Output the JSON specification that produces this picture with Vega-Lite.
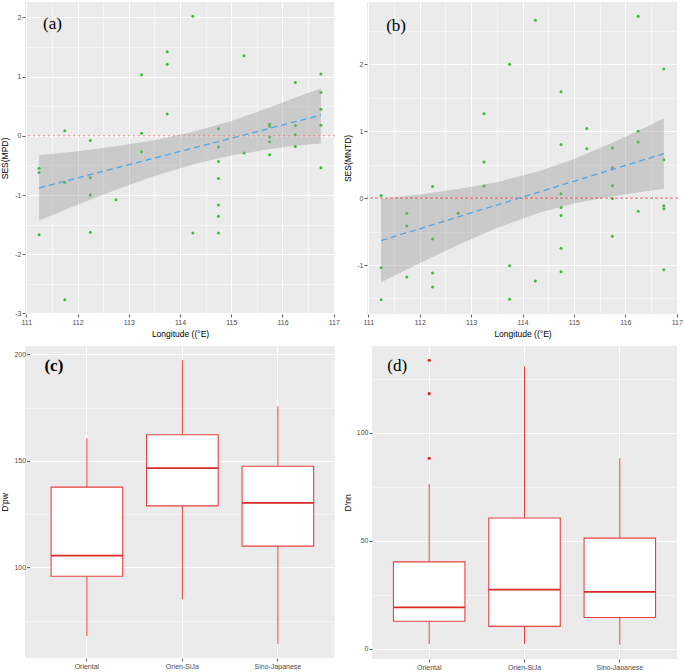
{
  "$schema": "https://vega.github.io/schema/vega-lite/v6.json",
  "padding": {"left": 0, "top": 2, "right": 0, "bottom": 0},
  "background": "white",
  "datasets": {
    "one": [{}],
    "ptsA": [
      {"lon": 111.25, "ses": -0.55}, {"lon": 111.25, "ses": -0.62}, {"lon": 111.25, "ses": -1.67},
      {"lon": 111.75, "ses": 0.085}, {"lon": 111.75, "ses": -0.785}, {"lon": 111.75, "ses": -2.77},
      {"lon": 112.25, "ses": -0.08}, {"lon": 112.25, "ses": -0.71}, {"lon": 112.25, "ses": -1.0}, {"lon": 112.25, "ses": -1.63},
      {"lon": 112.75, "ses": -1.08},
      {"lon": 113.25, "ses": 1.03}, {"lon": 113.25, "ses": 0.045}, {"lon": 113.25, "ses": -0.27},
      {"lon": 113.75, "ses": 1.42}, {"lon": 113.75, "ses": 1.21}, {"lon": 113.75, "ses": 0.37},
      {"lon": 114.25, "ses": 2.02}, {"lon": 114.25, "ses": -1.64},
      {"lon": 114.75, "ses": 0.12}, {"lon": 114.75, "ses": -0.19}, {"lon": 114.75, "ses": -0.435}, {"lon": 114.75, "ses": -0.72}, {"lon": 114.75, "ses": -1.17}, {"lon": 114.75, "ses": -1.36}, {"lon": 114.75, "ses": -1.64},
      {"lon": 115.25, "ses": 1.35}, {"lon": 115.25, "ses": -0.29},
      {"lon": 115.75, "ses": 0.2}, {"lon": 115.75, "ses": 0.16}, {"lon": 115.75, "ses": -0.02}, {"lon": 115.75, "ses": -0.1}, {"lon": 115.75, "ses": -0.32},
      {"lon": 116.25, "ses": 0.9}, {"lon": 116.25, "ses": 0.175}, {"lon": 116.25, "ses": 0.017}, {"lon": 116.25, "ses": -0.18},
      {"lon": 116.75, "ses": 1.045}, {"lon": 116.75, "ses": 0.73}, {"lon": 116.75, "ses": 0.45}, {"lon": 116.75, "ses": 0.18}, {"lon": 116.75, "ses": -0.54}
    ],
    "bandA": [
      {"lon": 111.25, "lo": -1.43, "hi": -0.33, "fit": -0.88},
      {"lon": 112.0, "lo": -1.164, "hi": -0.26, "fit": -0.712},
      {"lon": 112.75, "lo": -0.91, "hi": -0.178, "fit": -0.544},
      {"lon": 113.5, "lo": -0.678, "hi": -0.076, "fit": -0.377},
      {"lon": 114.32, "lo": -0.466, "hi": 0.08, "fit": -0.193},
      {"lon": 115.0, "lo": -0.334, "hi": 0.252, "fit": -0.041},
      {"lon": 115.75, "lo": -0.225, "hi": 0.479, "fit": 0.127},
      {"lon": 116.25, "lo": -0.167, "hi": 0.645, "fit": 0.239},
      {"lon": 116.75, "lo": -0.13, "hi": 0.8, "fit": 0.35}
    ],
    "ptsB": [
      {"lon": 111.25, "ses": 0.04}, {"lon": 111.25, "ses": -1.04}, {"lon": 111.25, "ses": -1.52},
      {"lon": 111.75, "ses": -0.225}, {"lon": 111.75, "ses": -0.415}, {"lon": 111.75, "ses": -1.18},
      {"lon": 112.25, "ses": 0.175}, {"lon": 112.25, "ses": -0.61}, {"lon": 112.25, "ses": -1.12}, {"lon": 112.25, "ses": -1.33},
      {"lon": 112.75, "ses": -0.225},
      {"lon": 113.25, "ses": 1.26}, {"lon": 113.25, "ses": 0.54}, {"lon": 113.25, "ses": 0.18},
      {"lon": 113.75, "ses": 2.0}, {"lon": 113.75, "ses": -1.01}, {"lon": 113.75, "ses": -1.51},
      {"lon": 114.25, "ses": 2.66}, {"lon": 114.25, "ses": -1.24},
      {"lon": 114.75, "ses": 1.59}, {"lon": 114.75, "ses": 0.8}, {"lon": 114.75, "ses": 0.065}, {"lon": 114.75, "ses": -0.14}, {"lon": 114.75, "ses": -0.26}, {"lon": 114.75, "ses": -0.75}, {"lon": 114.75, "ses": -1.1},
      {"lon": 115.25, "ses": 1.04}, {"lon": 115.25, "ses": 0.74},
      {"lon": 115.75, "ses": 0.75}, {"lon": 115.75, "ses": 0.455}, {"lon": 115.75, "ses": 0.185}, {"lon": 115.75, "ses": -0.005}, {"lon": 115.75, "ses": -0.57},
      {"lon": 116.25, "ses": 2.72}, {"lon": 116.25, "ses": 1.0}, {"lon": 116.25, "ses": 0.84}, {"lon": 116.25, "ses": -0.195},
      {"lon": 116.75, "ses": 1.93}, {"lon": 116.75, "ses": 0.575}, {"lon": 116.75, "ses": -0.115}, {"lon": 116.75, "ses": -0.16}, {"lon": 116.75, "ses": -1.07}
    ],
    "bandB": [
      {"lon": 111.25, "lo": -1.259, "hi": -0.011, "fit": -0.635},
      {"lon": 112.0, "lo": -0.972, "hi": 0.056, "fit": -0.458},
      {"lon": 112.75, "lo": -0.696, "hi": 0.136, "fit": -0.28},
      {"lon": 113.5, "lo": -0.445, "hi": 0.239, "fit": -0.103},
      {"lon": 114.32, "lo": -0.219, "hi": 0.401, "fit": 0.091},
      {"lon": 115.0, "lo": -0.08, "hi": 0.584, "fit": 0.252},
      {"lon": 115.75, "lo": 0.029, "hi": 0.829, "fit": 0.429},
      {"lon": 116.25, "lo": 0.086, "hi": 1.008, "fit": 0.547},
      {"lon": 116.75, "lo": 0.14, "hi": 1.19, "fit": 0.665}
    ],
    "boxC": [
      {"group": "Oriental", "lower": 67.7, "q1": 95.8, "median": 105.5, "q3": 137.7, "upper": 160.6},
      {"group": "Orien-SiJa", "lower": 85.0, "q1": 128.9, "median": 146.6, "q3": 162.3, "upper": 197.3},
      {"group": "Sino-Japanese", "lower": 64.1, "q1": 110.0, "median": 130.3, "q3": 147.5, "upper": 175.6}
    ],
    "boxD": [
      {"group": "Oriental", "lower": 2.2, "q1": 12.8, "median": 19.2, "q3": 40.3, "upper": 76.4},
      {"group": "Orien-SiJa", "lower": 2.3, "q1": 10.4, "median": 27.4, "q3": 60.6, "upper": 130.9},
      {"group": "Sino-Japanese", "lower": 1.9, "q1": 14.5, "median": 26.4, "q3": 51.3, "upper": 88.3}
    ],
    "outD": [
      {"group": "Oriental", "value": 133.7},
      {"group": "Oriental", "value": 118.2},
      {"group": "Oriental", "value": 88.3}
    ]
  },
  "vconcat": [
    {
      "hconcat": [
        {
          "width": 310, "height": 312,
          "resolve": {"axis": {"x": "independent", "y": "independent"}},
          "layer": [
            {
              "data": {"name": "ptsA"},
              "mark": {"type": "point", "opacity": 0},
              "encoding": {
                "x": {"field": "lon", "type": "quantitative", "scale": {"domain": [110.975, 117.025], "nice": false, "zero": false},
                      "axis": {"orient": "top", "values": [111.5, 112.5, 113.5, 114.5, 115.5, 116.5], "grid": true, "gridWidth": 0.5, "labels": false, "ticks": false, "domain": false, "title": null}},
                "y": {"field": "ses", "type": "quantitative", "scale": {"domain": [-3.01, 2.26], "nice": false, "zero": false},
                      "axis": {"orient": "right", "values": [-2.5, -1.5, -0.5, 0.5, 1.5], "grid": true, "gridWidth": 0.5, "labels": false, "ticks": false, "domain": false, "title": null}}
              }
            },
            {
              "data": {"name": "ptsA"},
              "mark": {"type": "circle", "size": 9, "color": "#3CBC3C", "opacity": 1},
              "encoding": {
                "x": {"field": "lon", "type": "quantitative", "axis": {"values": [111, 112, 113, 114, 115, 116, 117], "grid": true, "title": "Longitude ((°E)", "labelExpr": "'' + datum.value"}},
                "y": {"field": "ses", "type": "quantitative", "axis": {"values": [-3, -2, -1, 0, 1, 2], "grid": true, "title": "SES(MPD)", "titlePadding": 5, "labelExpr": "'' + datum.value"}}
              }
            },
            {
              "data": {"name": "bandA"},
              "mark": {"type": "area", "color": "#999999", "opacity": 0.4},
              "encoding": {
                "x": {"field": "lon", "type": "quantitative", "axis": null},
                "y": {"field": "lo", "type": "quantitative", "axis": null},
                "y2": {"field": "hi"}
              }
            },
            {
              "data": {"name": "one"},
              "mark": {"type": "rule", "color": "#F08080", "strokeDash": [2, 3], "strokeWidth": 1},
              "encoding": {"y": {"datum": 0, "type": "quantitative", "axis": null}}
            },
            {
              "data": {"name": "bandA"},
              "mark": {"type": "line", "color": "#4CA6E8", "strokeDash": [6, 4], "strokeWidth": 1.3},
              "encoding": {
                "x": {"field": "lon", "type": "quantitative", "axis": null},
                "y": {"field": "fit", "type": "quantitative", "axis": null}
              }
            },
            {
              "data": {"name": "one"},
              "mark": {"type": "text", "font": "Liberation Serif", "fontSize": 17, "color": "#000000"},
              "encoding": {
                "x": {"datum": 111.51, "type": "quantitative", "axis": null},
                "y": {"datum": 1.88, "type": "quantitative", "axis": null},
                "text": {"value": "(a)"}
              }
            }
          ]
        },
        {
          "width": 311, "height": 312,
          "resolve": {"axis": {"x": "independent", "y": "independent"}},
          "layer": [
            {
              "data": {"name": "ptsB"},
              "mark": {"type": "point", "opacity": 0},
              "encoding": {
                "x": {"field": "lon", "type": "quantitative", "scale": {"domain": [110.975, 117.025], "nice": false, "zero": false},
                      "axis": {"orient": "top", "values": [111.5, 112.5, 113.5, 114.5, 115.5, 116.5], "grid": true, "gridWidth": 0.5, "labels": false, "ticks": false, "domain": false, "title": null}},
                "y": {"field": "ses", "type": "quantitative", "scale": {"domain": [-1.732, 2.932], "nice": false, "zero": false},
                      "axis": {"orient": "right", "values": [-1.5, -0.5, 0.5, 1.5, 2.5], "grid": true, "gridWidth": 0.5, "labels": false, "ticks": false, "domain": false, "title": null}}
              }
            },
            {
              "data": {"name": "ptsB"},
              "mark": {"type": "circle", "size": 9, "color": "#3CBC3C", "opacity": 1},
              "encoding": {
                "x": {"field": "lon", "type": "quantitative", "axis": {"values": [111, 112, 113, 114, 115, 116, 117], "grid": true, "title": "Longitude ((°E)", "labelExpr": "'' + datum.value"}},
                "y": {"field": "ses", "type": "quantitative", "axis": {"values": [-1, 0, 1, 2], "grid": true, "title": "SES(MNTD)", "labelExpr": "'' + datum.value"}}
              }
            },
            {
              "data": {"name": "bandB"},
              "mark": {"type": "area", "color": "#999999", "opacity": 0.4},
              "encoding": {
                "x": {"field": "lon", "type": "quantitative", "axis": null},
                "y": {"field": "lo", "type": "quantitative", "axis": null},
                "y2": {"field": "hi"}
              }
            },
            {
              "data": {"name": "one"},
              "mark": {"type": "rule", "color": "#E03A3E", "strokeDash": [3, 2], "strokeWidth": 0.8},
              "encoding": {"y": {"datum": 0, "type": "quantitative", "axis": null}}
            },
            {
              "data": {"name": "bandB"},
              "mark": {"type": "line", "color": "#4CA6E8", "strokeDash": [6, 4], "strokeWidth": 1.3},
              "encoding": {
                "x": {"field": "lon", "type": "quantitative", "axis": null},
                "y": {"field": "fit", "type": "quantitative", "axis": null}
              }
            },
            {
              "data": {"name": "one"},
              "mark": {"type": "text", "font": "Liberation Serif", "fontSize": 17, "color": "#000000"},
              "encoding": {
                "x": {"datum": 111.54, "type": "quantitative", "axis": null},
                "y": {"datum": 2.58, "type": "quantitative", "axis": null},
                "text": {"value": "(b)"}
              }
            }
          ]
        }
      ],
      "spacing": 3,
      "bounds": "full"
    },
    {
      "hconcat": [
        {
          "width": 309.6, "height": 312,
          "resolve": {"axis": {"y": "independent"}},
          "layer": [
            {
              "data": {"name": "boxC"},
              "mark": {"type": "bar", "opacity": 0},
              "encoding": {
                "x": {"field": "group", "type": "nominal", "sort": ["Oriental", "Orien-SiJa", "Sino-Japanese"],
                      "scale": {"domain": ["Oriental", "Orien-SiJa", "Sino-Japanese"], "paddingInner": 0.25, "paddingOuter": 0.246, "align": 0.555},
                      "axis": {"title": null, "grid": true, "bandPosition": 0.5, "labelAngle": 0}},
                "y": {"field": "q1", "type": "quantitative", "scale": {"domain": [57.44, 203.96], "nice": false, "zero": false},
                      "axis": {"orient": "right", "values": [75, 125, 175], "grid": true, "gridWidth": 0.5, "labels": false, "ticks": false, "domain": false, "title": null}},
                "y2": {"field": "q3"}
              }
            },
            {
              "data": {"name": "boxC"},
              "mark": {"type": "rule", "color": "#E8413F", "strokeWidth": 1},
              "encoding": {
                "x": {"field": "group", "type": "nominal"},
                "y": {"field": "lower", "type": "quantitative", "axis": {"values": [100, 150, 200], "grid": true, "title": "D'pw", "offset": -4.6}},
                "y2": {"field": "q1"}
              }
            },
            {
              "data": {"name": "boxC"},
              "mark": {"type": "rule", "color": "#E8413F", "strokeWidth": 1},
              "encoding": {
                "x": {"field": "group", "type": "nominal"},
                "y": {"field": "q3", "type": "quantitative", "axis": null},
                "y2": {"field": "upper"}
              }
            },
            {
              "data": {"name": "boxC"},
              "mark": {"type": "bar", "fill": "#FFFFFF", "stroke": "#E8413F", "strokeWidth": 1.1},
              "encoding": {
                "x": {"field": "group", "type": "nominal"},
                "y": {"field": "q1", "type": "quantitative", "axis": null},
                "y2": {"field": "q3"}
              }
            },
            {
              "data": {"name": "boxC"},
              "mark": {"type": "bar", "fill": "#D92A25", "stroke": "#D92A25", "strokeWidth": 1.8},
              "encoding": {
                "x": {"field": "group", "type": "nominal"},
                "y": {"field": "median", "type": "quantitative", "axis": null},
                "y2": {"field": "median"}
              }
            },
            {
              "data": {"name": "one"},
              "mark": {"type": "text", "font": "Liberation Serif", "fontSize": 17, "fontWeight": "bold", "color": "#000000", "dx": -33},
              "encoding": {
                "x": {"datum": "Oriental", "type": "nominal"},
                "y": {"datum": 194.6, "type": "quantitative", "axis": null},
                "text": {"value": "(c)"}
              }
            }
          ]
        },
        {
          "width": 305, "height": 313,
          "resolve": {"axis": {"y": "independent"}},
          "layer": [
            {
              "data": {"name": "boxD"},
              "mark": {"type": "bar", "opacity": 0},
              "encoding": {
                "x": {"field": "group", "type": "nominal", "sort": ["Oriental", "Orien-SiJa", "Sino-Japanese"],
                      "scale": {"domain": ["Oriental", "Orien-SiJa", "Sino-Japanese"], "paddingInner": 0.25, "paddingOuter": 0.225},
                      "axis": {"title": null, "grid": true, "bandPosition": 0.5, "labelAngle": 0}},
                "y": {"field": "q1", "type": "quantitative", "scale": {"domain": [-4.69, 140.29], "nice": false, "zero": false},
                      "axis": {"orient": "right", "values": [25, 75, 125], "grid": true, "gridWidth": 0.5, "labels": false, "ticks": false, "domain": false, "title": null}},
                "y2": {"field": "q3"}
              }
            },
            {
              "data": {"name": "boxD"},
              "mark": {"type": "rule", "color": "#E8413F", "strokeWidth": 1},
              "encoding": {
                "x": {"field": "group", "type": "nominal"},
                "y": {"field": "lower", "type": "quantitative", "axis": {"values": [0, 50, 100], "grid": true, "title": "D'nn"}},
                "y2": {"field": "q1"}
              }
            },
            {
              "data": {"name": "boxD"},
              "mark": {"type": "rule", "color": "#E8413F", "strokeWidth": 1},
              "encoding": {
                "x": {"field": "group", "type": "nominal"},
                "y": {"field": "q3", "type": "quantitative", "axis": null},
                "y2": {"field": "upper"}
              }
            },
            {
              "data": {"name": "boxD"},
              "mark": {"type": "bar", "fill": "#FFFFFF", "stroke": "#E8413F", "strokeWidth": 1.1},
              "encoding": {
                "x": {"field": "group", "type": "nominal"},
                "y": {"field": "q1", "type": "quantitative", "axis": null},
                "y2": {"field": "q3"}
              }
            },
            {
              "data": {"name": "boxD"},
              "mark": {"type": "bar", "fill": "#D92A25", "stroke": "#D92A25", "strokeWidth": 1.8},
              "encoding": {
                "x": {"field": "group", "type": "nominal"},
                "y": {"field": "median", "type": "quantitative", "axis": null},
                "y2": {"field": "median"}
              }
            },
            {
              "data": {"name": "outD"},
              "mark": {"type": "circle", "size": 10, "color": "#E0201E", "opacity": 1},
              "encoding": {
                "x": {"field": "group", "type": "nominal"},
                "y": {"field": "value", "type": "quantitative", "axis": null}
              }
            },
            {
              "data": {"name": "one"},
              "mark": {"type": "text", "font": "Liberation Serif", "fontSize": 17, "color": "#000000", "dx": -32},
              "encoding": {
                "x": {"datum": "Oriental", "type": "nominal"},
                "y": {"datum": 131.2, "type": "quantitative", "axis": null},
                "text": {"value": "(d)"}
              }
            }
          ]
        }
      ],
      "spacing": 8,
      "bounds": "full"
    }
  ],
  "spacing": 8,
  "config": {
    "view": {"fill": "#EBEBEB", "stroke": null},
    "axis": {
      "domain": false,
      "gridColor": "#FFFFFF",
      "gridWidth": 1,
      "tickColor": "#333333",
      "tickSize": 3,
      "tickWidth": 0.8,
      "labelFont": "Liberation Sans",
      "labelFontSize": 7,
      "labelColor": "#4D4D4D",
      "labelPadding": 1,
      "titleFont": "Liberation Sans",
      "titleFontSize": 8.5,
      "titleFontWeight": "normal",
      "titleColor": "#000000",
      "titlePadding": 4
    }
  }
}
